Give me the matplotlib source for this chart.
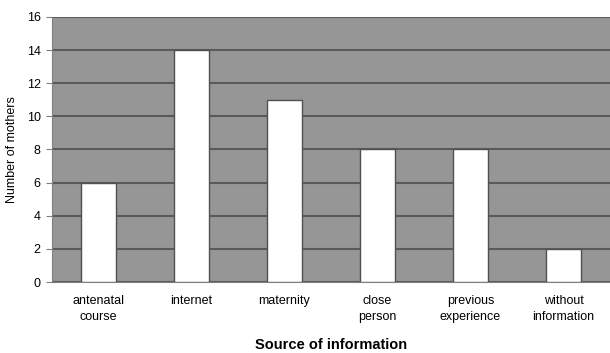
import matplotlib.pyplot as plt
import numpy as np

plt.rcParams['font.family'] = ['Liberation Sans', 'DejaVu Sans']

categories = ["antenatal\ncourse", "internet", "maternity", "close\nperson",
              "previous\nexperience", "without\ninformation"]
mothers = [6, 14, 11, 8, 8, 2]
yticks = [0, 2, 4, 6, 8, 10, 12, 14, 16]

fig = plt.figure(figsize=(6.10, 3.53), dpi=100)
ax = fig.add_axes([0.085, 0.201, 0.915, 0.751])
ax.set_facecolor("#969696")

x = np.arange(len(categories))
ax.bar(x, mothers, width=0.38, color="white", edgecolor="#505050",
       linewidth=1.0, zorder=3)

ax.set_ylim(0, 16)
ax.set_xlim(-0.5, len(categories) - 0.5)
ax.set_yticks(yticks)
ax.yaxis.grid(True, color="#5a5a5a", linewidth=1.5, zorder=1)
ax.set_axisbelow(True)
ax.set_xticks(x)
ax.set_xticklabels(categories, fontsize=9, linespacing=1.45)
ax.tick_params(axis="y", labelsize=9, length=4, color="#808080", pad=4)
ax.tick_params(axis="x", length=0, pad=9)
for s in ["top", "right"]:
    ax.spines[s].set_visible(False)
ax.spines["left"].set_color("#808080")
ax.spines["bottom"].set_color("#808080")

ax.set_ylabel("Number of mothers", fontsize=9, labelpad=6)
ax.set_xlabel("Source of information", fontsize=10.5, fontweight="bold", labelpad=11)

fig.savefig("out.png", dpi=100)
